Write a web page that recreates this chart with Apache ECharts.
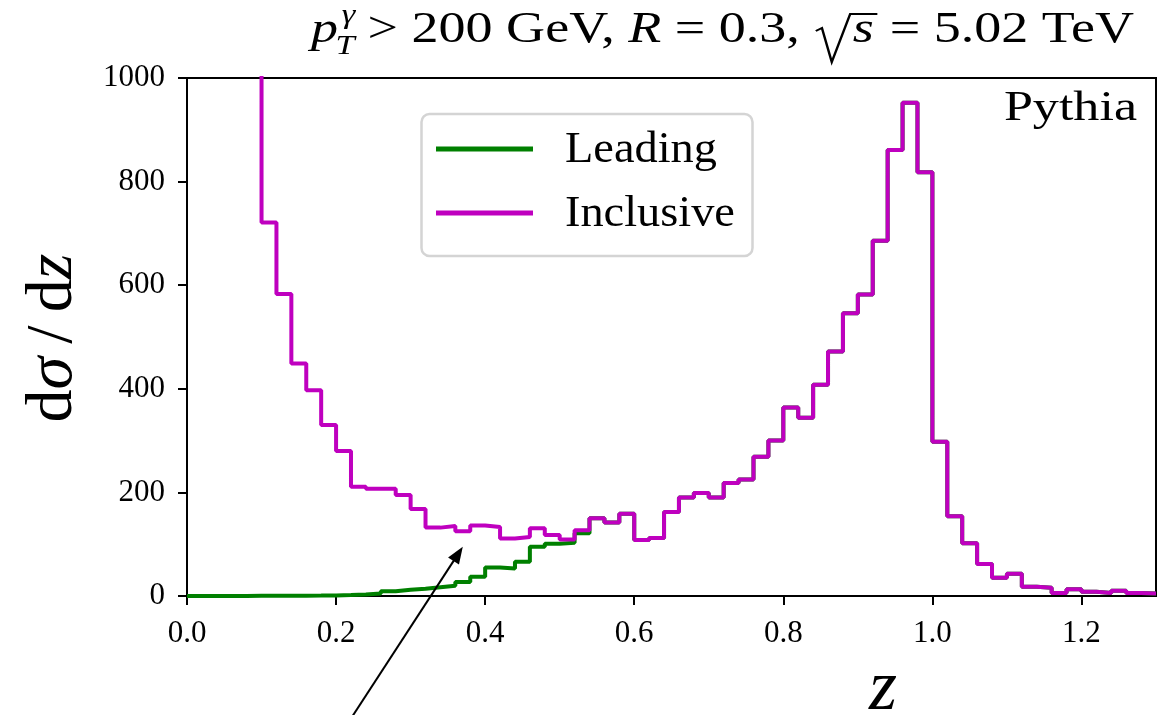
<!DOCTYPE html>
<html>
<head>
<meta charset="utf-8">
<script src="https://cdn.jsdelivr.net/npm/echarts@6.0.0/dist/echarts.min.js"></script>
<style>
  html, body { margin: 0; padding: 0; background: #fff; }
  #chart { width: 1159px; height: 715px; }
</style>
</head>
<body>
<div id="chart"></div>
<script>
// ---------------- data ----------------
// bin edges (z); each value below belongs to the bin that ENDS at the edge with the same index
const zEdges = [0.00,0.02,0.04,0.06,0.08,0.10,0.12,0.14,0.16,0.18,
                0.20,0.22,0.24,0.26,0.28,0.30,0.32,0.34,0.36,0.38,
                0.40,0.42,0.44,0.46,0.48,0.50,0.52,0.54,0.56,0.58,
                0.60,0.62,0.64,0.66,0.68,0.70,0.72,0.74,0.76,0.78,
                0.80,0.82,0.84,0.86,0.88,0.90,0.92,0.94,0.96,0.98,
                1.00,1.02,1.04,1.06,1.08,1.10,1.12,1.14,1.16,1.18,
                1.20,1.22,1.24,1.26,1.28,1.30];
const inclusive = [null,null,null,null,null,1200,
                   721,583,449,397,330,280,211,207,207,195,
                   168,132,135,125,136,133,111,114,131,118,
                   109,127,150,142,159,108,112,162,190,199,
                   190,218,225,269,300,364,344,408,472,546,
                   582,686,861,952,818,298,154,102,62,35,
                   43,18,16,6,13,8,6,10,6,5];
const leading = [0,0.1,0.1,0.2,0.2,0.3,0.4,0.5,0.7,0.9,1.2,
                 2,3,5,9,12,14,17,20,27,37,
                 55,53,66,95,101,103,121,
                 150,142,159,108,112,162,190,199,
                 190,218,225,269,300,364,344,408,472,546,
                 582,686,861,952,818,298,154,102,62,35,
                 43,18,16,6,13,8,6,10,6,5];
const seriesNames = ['Leading', 'Inclusive'];
const xTicks = [0.0, 0.2, 0.4, 0.6, 0.8, 1.0, 1.2];
const yTicks = [0, 200, 400, 600, 800, 1000];
const arrowTip = [0.370, 95];     // annotation arrow, data coords
const arrowTail = [0.222, -232];

// ---------------- style ----------------
const SERIF = '"Liberation Serif", "DejaVu Serif", serif';
const GREEN = '#008000';
const MAGENTA = '#bf00bf';

function pairs(edges, vals) {
  return edges.map((e, i) => [e, vals[i]]);
}

const chart = echarts.init(document.getElementById('chart'), null, { renderer: 'canvas' });

const axisCommon = {
  type: 'value',
  axisLine: { show: true, onZero: false, lineStyle: { color: '#000', width: 2 } },
  axisTick: { show: true, inside: false, length: 9, lineStyle: { color: '#000', width: 2 } },
  splitLine: { show: false },
  axisLabel: { color: '#000', fontFamily: SERIF, fontSize: 31 }
};

const option = {
  animation: false,
  backgroundColor: '#fff',
  grid: { left: 187, right: 3, top: 78, bottom: 119, show: true, borderColor: '#000', borderWidth: 2 },
  xAxis: Object.assign({}, axisCommon, {
    min: 0, max: 1.3, interval: 0.2,
    axisTick: Object.assign({}, axisCommon.axisTick, { customValues: xTicks }),
    axisLabel: Object.assign({}, axisCommon.axisLabel, {
      customValues: xTicks, margin: 22, formatter: v => v.toFixed(1)
    })
  }),
  yAxis: Object.assign({}, axisCommon, {
    min: 0, max: 1000, interval: 200,
    axisTick: Object.assign({}, axisCommon.axisTick, { customValues: yTicks }),
    axisLabel: Object.assign({}, axisCommon.axisLabel, {
      customValues: yTicks, margin: 22, formatter: v => String(v)
    })
  }),
  series: [
    {
      name: seriesNames[0], type: 'line', step: 'start', symbol: 'none', clip: true,
      lineStyle: { color: GREEN, width: 4 }, itemStyle: { color: GREEN },
      data: pairs(zEdges, leading), z: 2
    },
    {
      name: seriesNames[1], type: 'line', step: 'start', symbol: 'none', clip: true,
      lineStyle: { color: MAGENTA, width: 4 }, itemStyle: { color: MAGENTA },
      data: pairs(zEdges, inclusive), z: 3
    }
  ]
};
chart.setOption(option);

// ---------------- annotations / text ----------------
const ctx = document.createElement('canvas').getContext('2d');
function tw(text, font) { ctx.font = font; return ctx.measureText(text).width; }
function mid(baseline, size) { return baseline - 0.3375 * size; }

const graphics = [];
function textEl(list, text, x, baseline, size, italic, align) {
  const font = (italic ? 'italic ' : '') + size + 'px ' + SERIF;
  list.push({
    type: 'text', x: x, y: mid(baseline, size), z: 100,
    style: { text: text, font: font, fill: '#000', align: align || 'left', verticalAlign: 'middle' }
  });
  return tw(text, font);
}

// Title: p_T^γ > 200 GeV, R = 0.3, √s = 5.02 TeV  (laid out in a group, stretched to the reference width)
(function title() {
  const kids = [];
  const S = 44, s2 = 28, B = 45;
  let x = 0;
  x += textEl(kids, 'p', x, B, S, true);
  const wg = textEl(kids, 'γ', x + 3, 25, s2, true);
  const wt = textEl(kids, 'T', x - 2, 56, s2, true);
  x = Math.max(x + 3 + wg, x - 2 + wt) + 10;
  x += textEl(kids, '> 200 GeV, ', x, B, S, false);
  x += textEl(kids, 'R', x, B, S, true);
  x += textEl(kids, ' = 0.3, ', x, B, S, false);
  const rx = x + 2;
  const sx = rx + 30;
  const ws = tw('s', 'italic ' + S + 'px ' + SERIF);
  kids.push({
    type: 'polyline', z: 100,
    shape: { points: [[rx, B - 14], [rx + 5, B - 17], [rx + 13, B + 17], [rx + 28, B - 31], [sx + ws + 3, B - 31]] },
    style: { stroke: '#000', lineWidth: 2, fill: null, lineJoin: 'miter' }
  });
  x = sx;
  x += textEl(kids, 's', x, B, S, true);
  x += textEl(kids, ' = 5.02 TeV', x + 2, B, S, false) + 2;
  graphics.push({ type: 'group', x: 311, y: 0, scaleX: 823 / x, children: kids });
})();

// Pythia label
graphics.push({
  type: 'text', x: 1137, y: mid(123, 42), z: 100, scaleX: 1.24,
  style: { text: 'Pythia', font: '42px ' + SERIF, fill: '#000', align: 'right', verticalAlign: 'middle' }
});

// x axis name
graphics.push({
  type: 'text', x: 883, y: mid(714, 72), z: 100,
  style: { text: 'z', font: 'italic 72px ' + SERIF, fill: '#000', align: 'center', verticalAlign: 'middle' }
});

// y axis name (rotated)
graphics.push({
  type: 'text', x: 76 - 0.3375 * 66, y: 338, rotation: Math.PI / 2, z: 100,
  style: {
    text: '{u|d}{i|σ}{u|\u2009/\u2009d}{i|z}',
    align: 'center', verticalAlign: 'middle',
    rich: {
      u: { fontFamily: SERIF, fontSize: 66, fill: '#000', color: '#000' },
      i: { fontFamily: SERIF, fontSize: 66, fontStyle: 'italic', fill: '#000', color: '#000' }
    }
  }
});

// Legend box
graphics.push({
  type: 'rect', z: 90,
  shape: { x: 421.5, y: 114, width: 331, height: 142, r: 8 },
  style: { fill: 'rgba(255,255,255,0.85)', stroke: '#d4d4d4', lineWidth: 2.5 }
});
[[GREEN, 149, 150, seriesNames[0]], [MAGENTA, 213, 214, seriesNames[1]]].forEach(([c, ly, ty, name]) => {
  graphics.push({
    type: 'line', z: 95,
    shape: { x1: 436, y1: ly, x2: 533, y2: ly },
    style: { stroke: c, lineWidth: 5 }
  });
  graphics.push({
    type: 'text', x: 565, y: ty, z: 95, scaleX: 1.03,
    style: { text: name, font: '45px ' + SERIF, fill: '#000', align: 'left', verticalAlign: 'middle' }
  });
});

// Arrow annotation
const tip = chart.convertToPixel({ gridIndex: 0 }, arrowTip);
const tail = chart.convertToPixel({ gridIndex: 0 }, arrowTail);
(function arrow() {
  const dx = tip[0] - tail[0], dy = tip[1] - tail[1];
  const L = Math.hypot(dx, dy), ux = dx / L, uy = dy / L;
  const hl = 17, hw = 6.5;
  const bx = tip[0] - ux * hl, by = tip[1] - uy * hl;
  graphics.push({
    type: 'line', z: 110,
    shape: { x1: tail[0], y1: tail[1], x2: bx + ux * 2, y2: by + uy * 2 },
    style: { stroke: '#000', lineWidth: 2 }
  });
  graphics.push({
    type: 'polygon', z: 110,
    shape: { points: [[tip[0], tip[1]], [bx - uy * hw, by + ux * hw], [bx + uy * hw, by - ux * hw]] },
    style: { fill: '#000' }
  });
})();

chart.setOption({ graphic: graphics });
</script>
</body>
</html>
